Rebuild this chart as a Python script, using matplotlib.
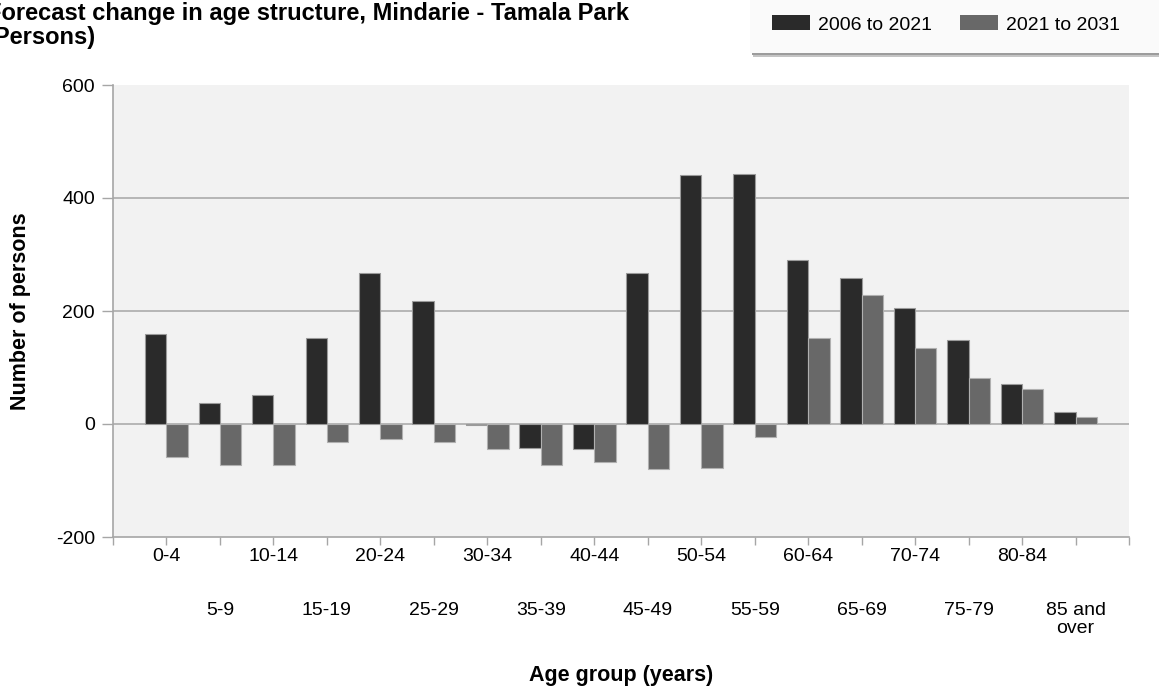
import numpy as np
import matplotlib
matplotlib.use('Agg')
from matplotlib import pyplot as plt
from matplotlib.patches import Rectangle, Patch

plt.rcParams['font.family'] = ['Liberation Sans', 'DejaVu Sans']
plt.rcParams['axes.unicode_minus'] = False

age_groups = ['0-4', '5-9', '10-14', '15-19', '20-24', '25-29', '30-34',
              '35-39', '40-44', '45-49', '50-54', '55-59', '60-64', '65-69',
              '70-74', '75-79', '80-84', '85 and\nover']
change_2006_2021 = [160, 38, 51, 153, 267, 217, -2, -43, -45, 268, 441, 443,
                    290, 259, 205, 149, 71, 21]
change_2021_2031 = [-58, -72, -72, -31, -27, -31, -45, -73, -67, -80, -77, -23,
                    153, 228, 135, 81, 62, 12]
series_names = ['2006 to 2021', '2021 to 2031']

DARK = '#2a2a2a'
GREY = '#686868'
LINE = '#a6a6a6'

W, H = 1159, 695
fig = plt.figure(figsize=(W / 100, H / 100), dpi=100)
fig.patch.set_facecolor('white')

# plot area in pixels: x 113..1129, y 85..537
ax = fig.add_axes([113 / W, 1 - 537 / H, (1129 - 113) / W, (537 - 85) / H])
ax.set_facecolor('#f2f2f2')

x = np.arange(len(age_groups))
ax.bar(x - 0.2, change_2006_2021, 0.4, color=DARK, edgecolor='#9a9a9a',
       linewidth=0.8, zorder=3)
ax.bar(x + 0.2, change_2021_2031, 0.4, color=GREY, edgecolor='#b0b0b0',
       linewidth=0.8, zorder=3)

ax.set_xlim(-1, 18)
ax.set_ylim(-200, 600)
ax.set_yticks([-200, 0, 200, 400, 600])
for v in [0, 200, 400]:
    ax.axhline(v, color=LINE, linewidth=1.1, zorder=1)

# staggered x labels: even groups on the first row, odd groups lower down
ax.set_xticks(x[0::2], labels=age_groups[0::2])
minor_pos = [-1] + list(x[1::2]) + [18]
ax.set_xticks(minor_pos, labels=[''] + age_groups[1::2] + [''], minor=True)
ax.tick_params(axis='x', which='both', length=6, width=1, color=LINE,
               labelsize=14, pad=2)
ax.tick_params(axis='x', which='minor', pad=41)
for lab in ax.get_xticklabels(minor=True):
    lab.set_linespacing(1.05)
ax.tick_params(axis='y', length=8, width=1, color=LINE, labelsize=14, pad=5)

for side in ['top', 'right']:
    ax.spines[side].set_visible(False)
for side in ['left', 'bottom']:
    ax.spines[side].set_color(LINE)
    ax.spines[side].set_linewidth(1.2)

ax.set_ylabel('Number of persons', fontsize=15.5, fontweight='bold')
ax.yaxis.label.set_va('center')
ax.yaxis.set_label_coords(-0.0906, 0.5)
ax.set_xlabel('Age group (years)', fontsize=15.5, fontweight='bold')
ax.xaxis.label.set_va('center')
ax.xaxis.set_label_coords(0.5, -0.3075)

fig.text(-13 / W, 1 - 2 / H,
         'Forecast change in age structure, Mindarie - Tamala Park\n(Persons)',
         fontsize=17, fontweight='bold', va='top', ha='left', linespacing=1.08)

# legend box with a soft shadow underneath
fig.patches.append(Rectangle((753 / W, 1 - 57 / H), 420 / W, 60 / H,
                             transform=fig.transFigure, facecolor='#c4c4c4',
                             edgecolor='none', zorder=0))
fig.patches.append(Rectangle((752 / W, 1 - 55 / H), 420 / W, 60 / H,
                             transform=fig.transFigure, facecolor='#9c9c9c',
                             edgecolor='none', zorder=0))
fig.patches.append(Rectangle((750 / W, 1 - 53 / H), 420 / W, 56 / H,
                             transform=fig.transFigure, facecolor='#fafafa',
                             edgecolor='none', zorder=1))
handles = [Patch(facecolor=DARK, edgecolor='none'),
           Patch(facecolor=GREY, edgecolor='none')]
fig.legend(handles, series_names, loc='center left',
           bbox_to_anchor=(772 / W, 1 - 24.5 / H), ncol=2, frameon=False,
           fontsize=14, borderpad=0, borderaxespad=0, handlelength=1.95,
           handleheight=0.77, handletextpad=0.41, columnspacing=1.44)

fig.savefig('out.png', dpi=100)
